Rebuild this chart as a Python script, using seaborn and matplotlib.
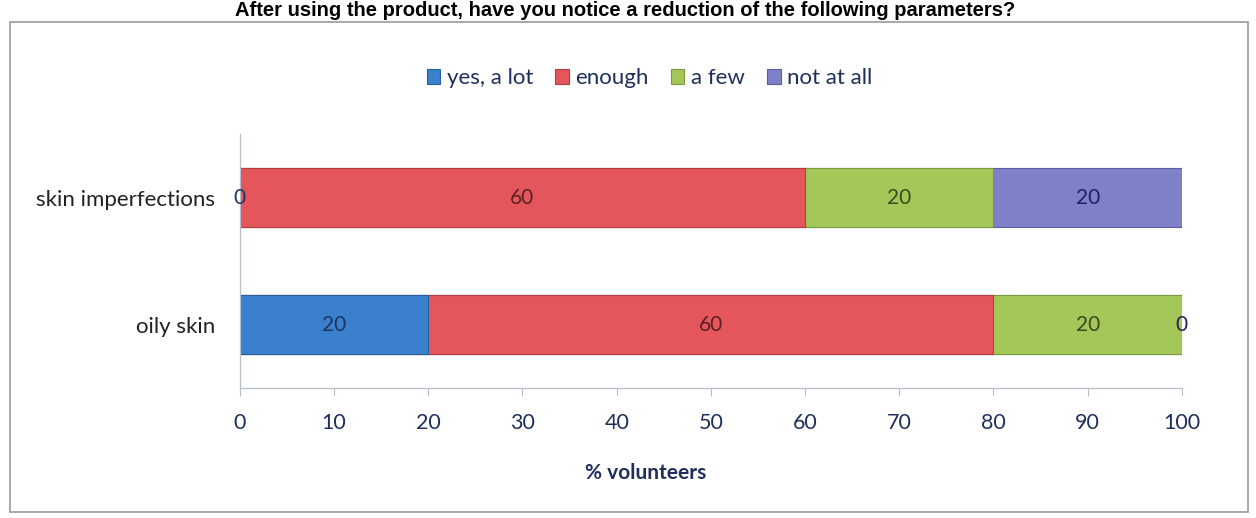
import pandas as pd
import numpy as np
import matplotlib.pyplot as plt
import matplotlib.patches as patches
import seaborn as sns

# values (% volunteers)
categories = ["skin imperfections", "oily skin"]
yes_a_lot = [0, 20]
enough = [60, 60]
a_few = [20, 20]
not_at_all = [20, 0]
series_names = ["yes, a lot", "enough", "a few", "not at all"]
x_ticks = [0, 10, 20, 30, 40, 50, 60, 70, 80, 90, 100]

colors = ["#3b80cc", "#e4565c", "#a4c75a", "#7f80ca"]
edge_colors = ["#2a5f9e", "#b53c42", "#7a9a3c", "#5a5ca0"]
label_colors = ["#1d3461", "#5a2121", "#3a4a1c", "#1f215a"]

sns.set_theme(style="white")
plt.rcParams["font.family"] = ["Lato", "DejaVu Sans"]

data = pd.DataFrame({"category": categories,
                     "yes, a lot": yes_a_lot,
                     "enough": enough,
                     "a few": a_few,
                     "not at all": not_at_all})
cum = data[series_names].cumsum(axis=1)

fig = plt.figure(figsize=(12.56, 5.18), dpi=100)
ax = fig.add_axes([0.191, 0.251, 0.750, 0.490])

# stacked bars: draw the running totals from the longest down
for name, col, ec in reversed(list(zip(series_names, colors, edge_colors))):
    sns.barplot(x=cum[name], y=data["category"], color=col, orient="h",
                width=0.47, saturation=1, edgecolor=ec, linewidth=0.8,
                ax=ax, label=name)

# segment labels
for i, cat in enumerate(categories):
    left = 0
    for name, lc in zip(series_names, label_colors):
        val = data.loc[i, name]
        ax.text(left + val / 2, i, f"{val}", ha="center", va="center",
                fontsize=15, color=lc)
        left += val

ax.set_xlim(0, 100)
ax.set_ylim(1.5, -0.5)
ax.set_xticks(x_ticks)
ax.tick_params(axis="x", bottom=True, length=6, width=0.8, color="#b8bfcc",
               labelsize=15.5, labelcolor="#1f2f5c", pad=12)
ax.tick_params(axis="y", left=False, labelsize=16, labelcolor="#222222", pad=12)
ax.set_xlabel("% volunteers", fontsize=15, fontweight="bold", color="#1f2f5c")
ax.xaxis.set_label_coords(0.431, -0.295)
ax.set_ylabel("")
for s in ["top", "right"]:
    ax.spines[s].set_visible(False)
for s in ["left", "bottom"]:
    ax.spines[s].set_color("#b8bfcc")
    ax.spines[s].set_linewidth(0.9)

# legend in original series order
handles, labels = ax.get_legend_handles_labels()
order = [labels.index(n) for n in series_names]
ax.legend([handles[k] for k in order], series_names, loc="center",
          bbox_to_anchor=(0.435, 1.22), ncol=4, frameon=False, fontsize=16,
          handlelength=0.6, handleheight=0.7, handletextpad=0.3,
          columnspacing=1.0, labelcolor="#1f2f5c")

# outer frame
fig.patches.append(patches.Rectangle((10 / 1256, 6 / 518), 1238 / 1256, 490 / 518,
                                     transform=fig.transFigure, fill=False,
                                     edgecolor="#9a9a9a", linewidth=1.2))

fig.text(0.498, 1 - 16 / 518,
         "After using the product, have you notice a reduction of the following parameters?",
         ha="center", va="baseline", fontsize=14.5, fontweight="bold",
         family=["Liberation Sans", "DejaVu Sans"], color="black")

fig.savefig("out.png", dpi=100)
